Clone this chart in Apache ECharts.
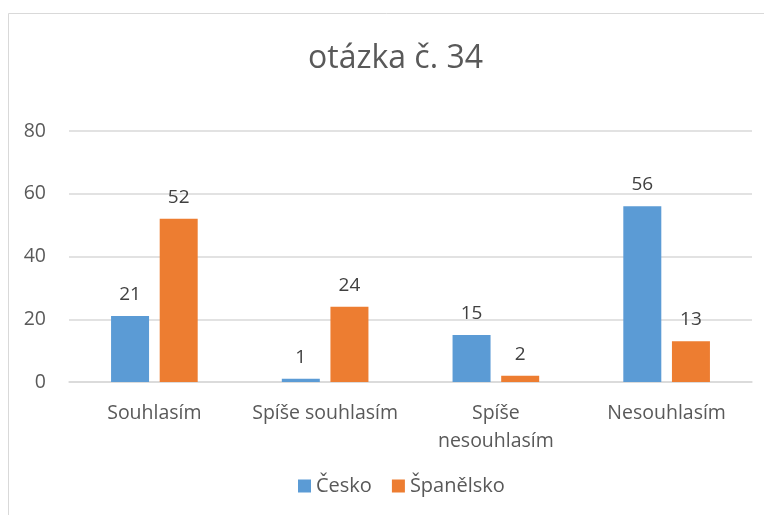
<!DOCTYPE html>
<html>
<head>
<meta charset="utf-8">
<script src="https://cdn.jsdelivr.net/npm/echarts@6/dist/echarts.min.js"></script>
<style>
  html, body { margin: 0; padding: 0; background: #fff; }
  #chart { width: 764px; height: 515px; }
</style>
</head>
<body>
<div id="chart"></div>
<script>
const categories = ['Souhlasím', 'Spíše souhlasím', 'Spíše\nnesouhlasím', 'Nesouhlasím'];
const cesko = [21, 1, 15, 56];
const spanelsko = [52, 24, 2, 13];
const yTicks = { min: 0, max: 80, interval: 20 };

const font = '"Open Sans", sans-serif';
const textColor = '#595959';

const chart = echarts.init(document.getElementById('chart'));

const labelStyle = {
  show: true,
  position: 'top',
  distance: 12,
  fontSize: 19,
  color: '#404040',
  fontFamily: font,
};

chart.setOption({
  animation: false,
  backgroundColor: '#fff',
  title: {
    text: 'otázka č. 34',
    left: 303,
    top: 38,
    textStyle: { fontSize: 32, fontWeight: 'normal', color: textColor, fontFamily: font },
  },
  graphic: [{
    type: 'rect',
    shape: { x: 8.5, y: 13.5, width: 780, height: 540 },
    style: { fill: 'none', stroke: '#d9d9d9', lineWidth: 1 },
    silent: true,
  }],
  legend: {
    bottom: 14,
    left: 293,
    itemWidth: 13,
    itemHeight: 13,
    itemGap: 20,
    itemTextGap: 4,
    icon: 'rect',
    textStyle: { fontSize: 20, color: textColor, fontFamily: font },
  },
  grid: { left: 69, right: 12, top: 131, bottom: 133 },
  xAxis: {
    type: 'category',
    data: categories,
    axisLine: { lineStyle: { color: '#d9d9d9', width: 1.5 } },
    axisTick: { show: false },
    axisLabel: { fontSize: 19.5, color: textColor, fontFamily: font, margin: 17, lineHeight: 28, interval: 0 },
  },
  yAxis: {
    type: 'value',
    min: yTicks.min,
    max: yTicks.max,
    interval: yTicks.interval,
    axisLine: { show: false },
    axisTick: { show: false },
    axisLabel: { fontSize: 19.5, color: textColor, fontFamily: font, margin: 23 },
    splitLine: { lineStyle: { color: '#d9d9d9', width: 1.5 } },
  },
  series: [
    {
      name: 'Česko',
      type: 'bar',
      data: cesko,
      barWidth: 38,
      barGap: '28%',
      itemStyle: { color: '#5b9bd5' },
      label: labelStyle,
    },
    {
      name: 'Španělsko',
      type: 'bar',
      data: spanelsko,
      barWidth: 38,
      itemStyle: { color: '#ed7d31' },
      label: labelStyle,
    },
  ],
});
</script>
</body>
</html>
